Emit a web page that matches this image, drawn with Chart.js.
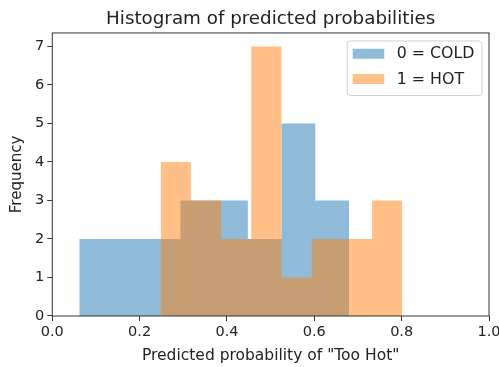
<!DOCTYPE html>
<html>
<head>
<meta charset="utf-8">
<script src="https://cdn.jsdelivr.net/npm/chart.js@4.4.1/dist/chart.umd.min.js"></script>
<style>
  html, body { margin: 0; padding: 0; background: #ffffff; }
  #wrap { width: 499px; height: 367px; position: relative; }
</style>
</head>
<body>
<div id="wrap"><canvas id="c" width="499" height="367"></canvas></div>
<script>
// Histogram bins: edges (left of each bin, then final right edge) and counts
const coldEdges  = [0.0618, 0.1390, 0.2162, 0.2934, 0.3706, 0.4478, 0.5250, 0.6022, 0.6794];
const coldCounts = [2, 2, 2, 3, 3, 2, 5, 3];
const hotEdges   = [0.2481, 0.3173, 0.3865, 0.4556, 0.5248, 0.5940, 0.6632, 0.7323, 0.8015];
const hotCounts  = [4, 3, 2, 7, 1, 2, 2, 3];

const seriesLabels = ['0 = COLD', '1 = HOT'];
const xTicks = [0.0, 0.2, 0.4, 0.6, 0.8, 1.0];
const yTicks = [0, 1, 2, 3, 4, 5, 6, 7];

const FONT = 'DejaVu Sans';
const INK = '#222222';
const SPINE = '#333333';
const BLUE = 'rgba(31, 119, 180, 0.5)';
const ORANGE = 'rgba(255, 127, 14, 0.5)';

Chart.defaults.font.family = FONT;
Chart.defaults.color = INK;

// Turn bin edges + counts into a step outline (each bin holds its count until the next edge)
function stepPoints(edges, counts) {
  return edges.map((x, i) => ({ x: x, y: counts[Math.min(i, counts.length - 1)] }));
}

// Four-sided axes frame drawn over the bars
const framePlugin = {
  id: 'frame',
  afterDatasetsDraw(chart) {
    const { ctx, chartArea: a } = chart;
    ctx.save();
    ctx.strokeStyle = SPINE;
    ctx.lineWidth = 1;
    ctx.strokeRect(a.left, a.top, a.right - a.left, a.bottom - a.top);
    ctx.restore();
  }
};

// Legend box in the upper-right corner of the plot area
const boxLegendPlugin = {
  id: 'boxLegend',
  afterDraw(chart) {
    const { ctx, chartArea: a } = chart;
    const fs = 15.8;
    ctx.save();
    ctx.font = fs + 'px "' + FONT + '"';
    const items = chart.data.datasets.map(ds => ({ text: ds.label, color: ds.backgroundColor }));
    const textW = Math.max(...items.map(it => ctx.measureText(it.text).width));
    const padL = 5.5, handleW = 31.5, handleH = 10, gap = 12.5, padR = 7.5;
    const w = padL + handleW + gap + textW + padR;
    const h = 54.5;
    const right = a.right - 7;
    const top = a.top + 8;
    const left = right - w;
    // rounded frame
    const r = 3;
    ctx.beginPath();
    ctx.moveTo(left + r, top);
    ctx.lineTo(right - r, top);
    ctx.quadraticCurveTo(right, top, right, top + r);
    ctx.lineTo(right, top + h - r);
    ctx.quadraticCurveTo(right, top + h, right - r, top + h);
    ctx.lineTo(left + r, top + h);
    ctx.quadraticCurveTo(left, top + h, left, top + h - r);
    ctx.lineTo(left, top + r);
    ctx.quadraticCurveTo(left, top, left + r, top);
    ctx.closePath();
    ctx.fillStyle = 'rgba(255,255,255,0.8)';
    ctx.fill();
    ctx.strokeStyle = '#d0d0d0';
    ctx.lineWidth = 1;
    ctx.stroke();
    items.forEach((it, i) => {
      const cy = top + 12.8 + i * 25.2;
      ctx.fillStyle = it.color;
      ctx.fillRect(left + padL, cy - handleH / 2, handleW, handleH);
      ctx.fillStyle = INK;
      ctx.textBaseline = 'middle';
      ctx.textAlign = 'left';
      ctx.fillText(it.text, left + padL + handleW + gap, cy + 0.5);
    });
    ctx.restore();
  }
};

new Chart(document.getElementById('c'), {
  type: 'line',
  data: {
    datasets: [
      {
        label: seriesLabels[0],
        data: stepPoints(coldEdges, coldCounts),
        stepped: 'before',
        fill: 'origin',
        backgroundColor: BLUE,
        borderColor: 'rgba(0,0,0,0)',
        borderWidth: 0,
        pointRadius: 0,
        pointHoverRadius: 0,
        order: 2
      },
      {
        label: seriesLabels[1],
        data: stepPoints(hotEdges, hotCounts),
        stepped: 'before',
        fill: 'origin',
        backgroundColor: ORANGE,
        borderColor: 'rgba(0,0,0,0)',
        borderWidth: 0,
        pointRadius: 0,
        pointHoverRadius: 0,
        order: 1
      }
    ]
  },
  options: {
    responsive: false,
    animation: false,
    events: [],
    layout: { padding: { left: 0, right: 10, top: 0, bottom: 0 } },
    plugins: {
      legend: { display: false },
      tooltip: { enabled: false },
      title: {
        display: true,
        fullSize: false,
        text: 'Histogram of predicted probabilities',
        color: INK,
        font: { family: FONT, size: 18.3, weight: 'normal' },
        padding: { top: 8, bottom: 3.0 }
      }
    },
    scales: {
      x: {
        type: 'linear',
        min: 0,
        max: 1,
        afterBuildTicks: (scale) => { scale.ticks = xTicks.map(v => ({ value: v })); },
        afterFit: (scale) => { scale.height = 51; scale.paddingRight = 0; scale.paddingLeft = 0; },
        ticks: {
          callback: (v) => Number(v).toFixed(1),
          font: { family: FONT, size: 14.5 },
          color: INK,
          padding: 3,
          maxRotation: 0,
          autoSkip: false
        },
        grid: {
          display: true,
          drawOnChartArea: false,
          drawTicks: true,
          tickLength: 5,
          tickColor: SPINE,
          tickWidth: 1
        },
        border: { display: false },
        title: {
          display: true,
          text: 'Predicted probability of "Too Hot"',
          color: INK,
          font: { family: FONT, size: 15.5 },
          padding: { top: 0, bottom: 2 }
        }
      },
      y: {
        type: 'linear',
        min: 0,
        max: 7.35,
        afterBuildTicks: (scale) => { scale.ticks = yTicks.map(v => ({ value: v })); },
        afterFit: (scale) => { scale.width = 52.3; scale.paddingTop = 0; scale.paddingBottom = 0; },
        ticks: {
          callback: (v) => String(v),
          font: { family: FONT, size: 14.5 },
          color: INK,
          padding: 3
        },
        grid: {
          display: true,
          drawOnChartArea: false,
          drawTicks: true,
          tickLength: 5,
          tickColor: SPINE,
          tickWidth: 1
        },
        border: { display: false },
        title: {
          display: true,
          text: 'Frequency',
          color: INK,
          font: { family: FONT, size: 15 },
          padding: { top: 8.5, bottom: 0 }
        }
      }
    }
  },
  plugins: [framePlugin, boxLegendPlugin]
});
</script>
</body>
</html>
